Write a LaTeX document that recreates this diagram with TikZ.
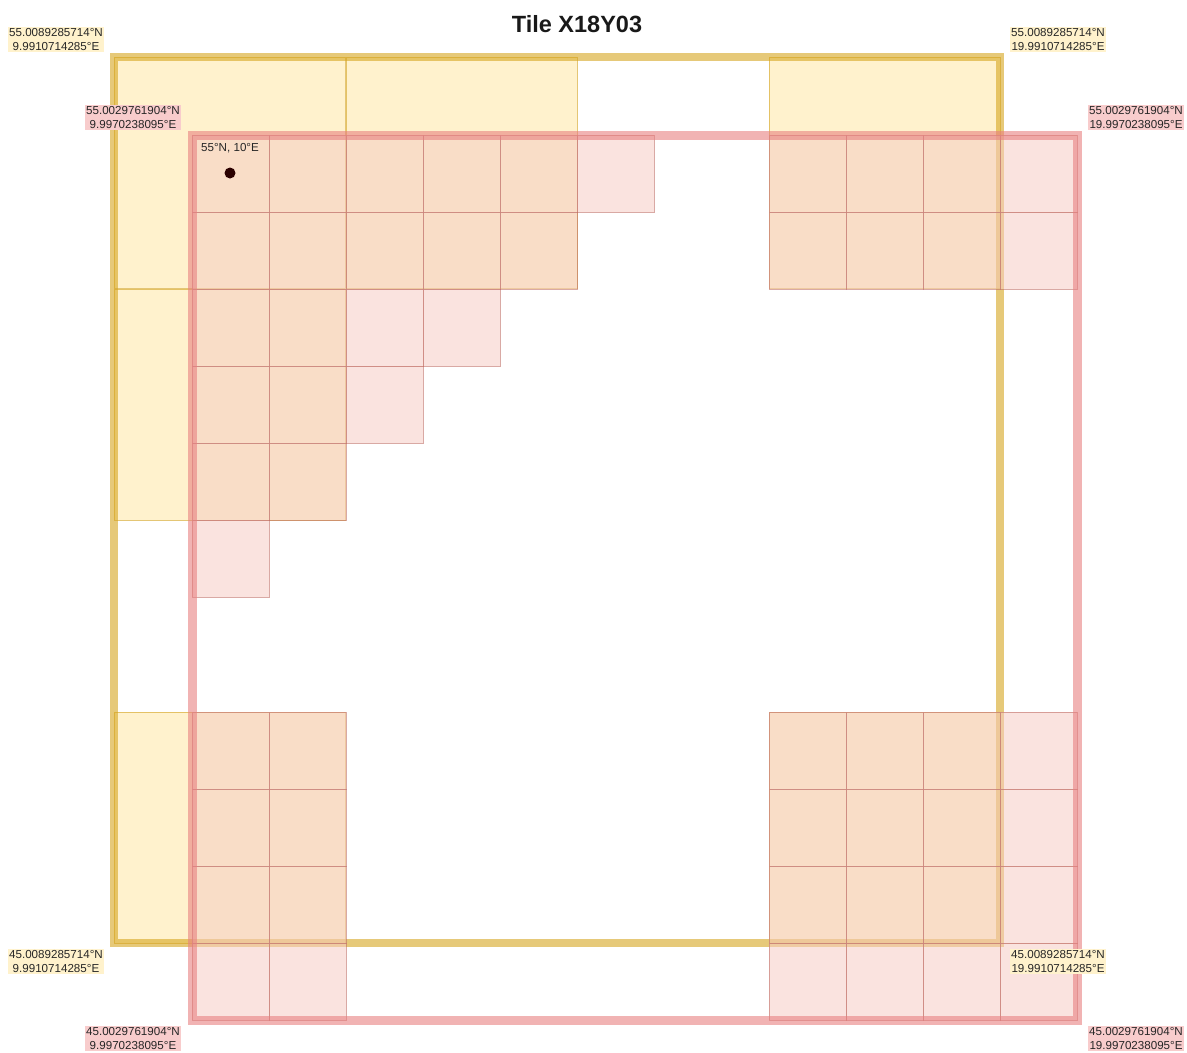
\documentclass[tikz,border=0pt]{standalone}
\usepackage{fontspec}
\setmainfont{Liberation Sans}
\definecolor{ylw}{HTML}{FFD966}
\definecolor{ylwframe}{HTML}{D6A520}
\definecolor{ylwedge}{HTML}{D9AE3A}
\definecolor{redc}{HTML}{E88080}
\definecolor{redfill}{HTML}{F6CCC4}
\definecolor{rededge}{HTML}{C07068}
\definecolor{ylwlab}{HTML}{FFF2CC}
\definecolor{redlab}{HTML}{F8CCCC}
\definecolor{dotc}{HTML}{2B0000}
\begin{document}
\begin{tikzpicture}[x=1pt,y=-1pt,
 yblock/.style={fill=ylw,fill opacity=0.33,draw=ylwedge,draw opacity=0.7,line width=1pt},
 rcell/.style={fill=redfill,fill opacity=0.55,draw=rededge,draw opacity=0.6,line width=1pt},
 yframe/.style={draw=ylwframe,draw opacity=0.6,line width=8pt},
 rframe/.style={draw=redc,draw opacity=0.6,line width=9pt},
 lab/.style={font=\fontsize{11.6}{14}\selectfont,align=center,inner xsep=1pt,inner ysep=1.5pt,text=black!85},
 ylab/.style={lab,fill=ylwlab},
 rlab/.style={lab,fill=redlab}]
\useasboundingbox (0,0) rectangle (1187,1053);
% yellow layer
\foreach \x/\y in {114/57,346/57,769/57,114/289,114/712,769/712}
  \draw[yblock] (\x,\y) rectangle ++(231,231);
\draw[yframe] (114,57) rectangle (1000,943);
% red layer: top-left staircase
\foreach \c/\r in {0/0,1/0,2/0,3/0,4/0,5/0,
                   0/1,1/1,2/1,3/1,4/1,
                   0/2,1/2,2/2,3/2,
                   0/3,1/3,2/3,
                   0/4,1/4,
                   0/5}
  \draw[rcell] ({192+77*\c},{135+77*\r}) rectangle ++(77,77);
% top-right
\foreach \c in {0,...,3} \foreach \r in {0,1}
  \draw[rcell] ({769+77*\c},{135+77*\r}) rectangle ++(77,77);
% bottom-left
\foreach \c in {0,1} \foreach \r in {0,...,3}
  \draw[rcell] ({192+77*\c},{712+77*\r}) rectangle ++(77,77);
% bottom-right
\foreach \c in {0,...,3} \foreach \r in {0,...,3}
  \draw[rcell] ({769+77*\c},{712+77*\r}) rectangle ++(77,77);
\draw[rframe] (192,135) rectangle (1077,1020);
% corner labels
\node[ylab,anchor=south east] (ytl) at (104,52) {55.0089285714°N\\9.9910714285°E};
\node[rlab,anchor=south east] (rtl) at (181,130) {55.0029761904°N\\9.9970238095°E};
\node[ylab,anchor=south west] (ytr) at (1010,52) {55.0089285714°N\\19.9910714285°E};
\node[rlab,anchor=south west] (rtr) at (1088,130) {55.0029761904°N\\19.9970238095°E};
\node[ylab,anchor=north east] (ybl) at (104,949) {45.0089285714°N\\9.9910714285°E};
\node[rlab,anchor=north east] (rbl) at (181,1026) {45.0029761904°N\\9.9970238095°E};
\node[ylab,anchor=north west] (ybr) at (1010,949) {45.0089285714°N\\19.9910714285°E};
\node[rlab,anchor=north west] (rbr) at (1088,1026) {45.0029761904°N\\19.9970238095°E};
% origin marker
\node[lab,anchor=west,inner sep=0pt] (orig) at (201,148) {55°N, 10°E};
\fill[dotc] (230,173) circle[radius=5.5pt];
% title
\node[font=\fontsize{23.5}{26}\bfseries\selectfont,text=black!90] (title) at (577,24) {Tile X18Y03};
\end{tikzpicture}
\end{document}
